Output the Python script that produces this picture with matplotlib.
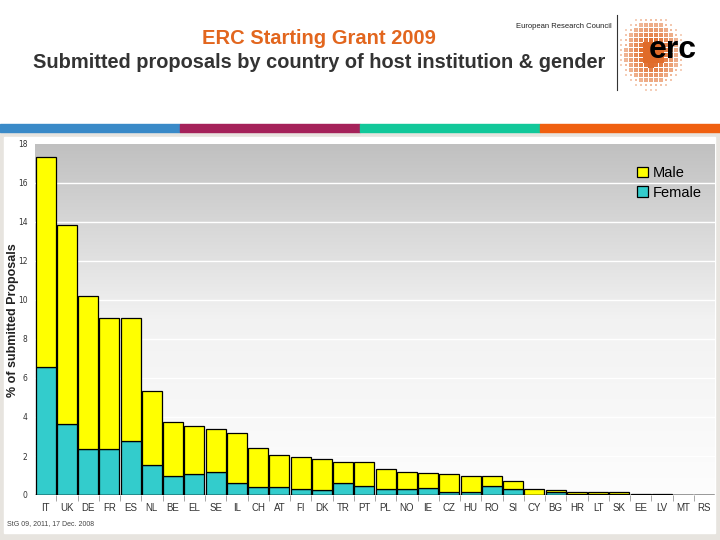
import numpy as np
import matplotlib
matplotlib.use("Agg")
import matplotlib.pyplot as plt
from matplotlib.patches import Rectangle

# ---- data ----
countries = ["IT", "UK", "DE", "FR", "ES", "NL", "BE", "EL", "SE", "IL", "CH", "AT",
             "FI", "DK", "TR", "PT", "PL", "NO", "IE", "CZ", "HU", "RO", "SI", "CY",
             "BG", "HR", "LT", "SK", "EE", "LV", "MT", "RS"]
total_pct = [17.35, 13.85, 10.22, 9.07, 9.07, 5.33, 3.73, 3.56, 3.38, 3.17, 2.40, 2.04,
             1.93, 1.83, 1.71, 1.68, 1.32, 1.17, 1.12, 1.06, 0.98, 0.98, 0.70, 0.29,
             0.24, 0.17, 0.14, 0.14, 0.07, 0.07, 0.02, 0.02]
female_pct = [6.55, 3.64, 2.36, 2.36, 2.77, 1.54, 0.99, 1.07, 1.18, 0.63, 0.43, 0.43,
              0.29, 0.24, 0.63, 0.48, 0.29, 0.29, 0.34, 0.14, 0.14, 0.44, 0.29, 0.00,
              0.14, 0.07, 0.07, 0.07, 0.00, 0.00, 0.00, 0.00]
male_pct = [t - f for t, f in zip(total_pct, female_pct)]
yticks = [0, 2, 4, 6, 8, 10, 12, 14, 16, 18]

W, H = 720, 540
fig = plt.figure(figsize=(7.2, 5.4), dpi=100)
fig.patch.set_facecolor("white")

def fx(px):
    return px / W

def fy(py):
    return 1 - py / H

# ---- slide decoration ----
bg = fig.add_axes([0, 0, 1, 1], zorder=0)
bg.set_xlim(0, W)
bg.set_ylim(H, 0)
bg.axis("off")
bg.add_patch(Rectangle((0, 131), W, H - 131, color="#e7e4df"))
bg.add_patch(Rectangle((4, 137), 711, 396, color="white"))
stripe_cols = ["#3a8ac8", "#a5225a", "#12c89a", "#f06010"]
for i, c in enumerate(stripe_cols):
    bg.add_patch(Rectangle((i * 180, 124), 180, 7.5, color=c))
bg.plot([617, 617], [15, 90], color="#333333", lw=0.8)

# logo: halftone dotted disc
gx, gy = np.meshgrid(np.arange(-36, 37, 5.0), np.arange(-38, 39, 5.0))
gx = gx.ravel()
gy = gy.ravel()
r = np.hypot(gx / 33.0, gy / 38.0)
m = r < 1.0
cx, cy = 652, 53
sizes = np.clip(18 * (1 - r[m]) ** 0.8, 1.0, None)
alph = np.clip(1.3 - r[m], 0.3, 1)
cols = np.zeros((m.sum(), 4))
cols[:, 0] = 0.88
cols[:, 1] = 0.42
cols[:, 2] = 0.16
cols[:, 3] = alph
bg.scatter(cx + gx[m], cy + gy[m], s=sizes, c=cols, linewidths=0, marker="s")
bg.text(673, 50, "erc", fontsize=23, fontweight="bold", color="black",
        ha="center", va="center", family="Liberation Sans")

fig.text(fx(612), fy(27), "European Research Council", fontsize=5.5, color="#222222",
         ha="right", va="center", family="Liberation Sans")
fig.text(fx(319), fy(38), "ERC Starting Grant 2009", fontsize=14.5, fontweight="bold",
         color="#e2661e", ha="center", va="center", family="Liberation Sans")
fig.text(fx(319), fy(62), "Submitted proposals by country of host institution & gender",
         fontsize=14.4, fontweight="bold", color="#333333", ha="center", va="center",
         family="Liberation Sans")
fig.text(fx(7), fy(524), "StG 09, 2011, 17 Dec. 2008", fontsize=5, color="#444444",
         ha="left", va="center", family="Liberation Sans")

# ---- chart ----
ax = fig.add_axes([fx(35), fy(495), fx(680), (495 - 144) / H], zorder=2)
x = np.arange(len(countries))
ax.set_xlim(-0.5, len(countries) - 0.5)
ax.set_ylim(0, 18)

grad = np.linspace(0, 1, 256).reshape(-1, 1)
ax.imshow(grad, cmap=matplotlib.colors.LinearSegmentedColormap.from_list(
    "g", ["#fdfdfd", "#f2f2f2", "#c0c0c0"]), aspect="auto",
    extent=[-0.5, len(countries) - 0.5, 0, 18], origin="lower", zorder=0)
for t in yticks[1:-1]:
    ax.axhline(t, color="white", lw=1.0, zorder=1)

ax.bar(x, female_pct, width=0.94, color="#33cccc", edgecolor="black", linewidth=0.9,
       label="Female", zorder=3)
ax.bar(x, male_pct, bottom=female_pct, width=0.94, color="#ffff00", edgecolor="black",
       linewidth=0.9, label="Male", zorder=3)

for s in ax.spines.values():
    s.set_visible(False)
ax.axhline(0, color="black", lw=1, zorder=4)

ax.set_yticks(yticks)
ax.set_yticklabels([str(v) for v in yticks], fontsize=5.5, color="#333333")
ax.tick_params(axis="y", length=0, pad=5.5)
ax.set_xticks(x)
ax.set_xticklabels(countries, fontsize=7, color="#333333", family="Liberation Sans")
ax.tick_params(axis="x", length=0, pad=6)
ax.set_xticks(np.arange(len(countries) - 1) + 0.5, minor=True)
ax.tick_params(axis="x", which="minor", length=4, color="#999999", direction="out")
ax.set_ylabel("% of submitted Proposals", fontsize=9, fontweight="bold",
              color="#222222", family="Liberation Sans")
ax.yaxis.set_label_coords((19 - 35) / 680, (495 - 320) / 351)

h, l = ax.get_legend_handles_labels()
leg = ax.legend(h[::-1], l[::-1], loc="upper left",
                bbox_to_anchor=((637 - 35) / 680, (495 - 166) / 351),
                frameon=False, handlelength=0.75, handleheight=0.75,
                handletextpad=0.3, labelspacing=0.38, borderaxespad=0, borderpad=0,
                prop={"family": "Liberation Sans", "size": 10.5})

fig.savefig("out.png", dpi=100)
